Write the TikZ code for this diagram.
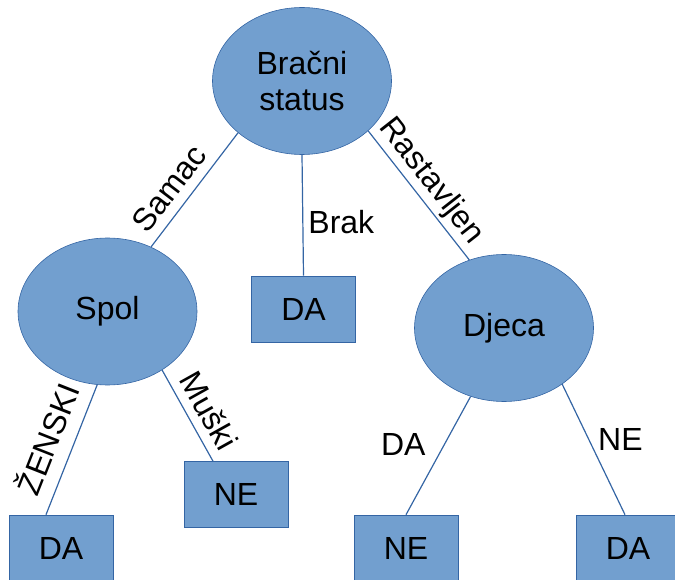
\documentclass[tikz,border=0pt]{standalone}
\usepackage{fontspec}
\setmainfont{Liberation Sans}
\usetikzlibrary{shapes.geometric}
\definecolor{r114g159b207}{HTML}{729FCF}
\definecolor{r52g101b164}{HTML}{3465A4}
\tikzset{
  every node/.style={font=\fontsize{32}{36}\selectfont},
  question/.style={ellipse, draw=r52g101b164, fill=r114g159b207, line width=0.6pt,
    minimum width=179pt, minimum height=147pt, inner sep=0pt, align=center},
  answer/.style={rectangle, draw=r52g101b164, fill=r114g159b207, line width=0.6pt,
    minimum width=104pt, minimum height=66pt, inner sep=0pt},
  branch/.style={draw=r52g101b164, line width=1.2pt},
  edgetext/.style={sloped, above, inner sep=#1},
  edgetext/.default=8pt
}
\begin{document}
\begin{tikzpicture}[x=1pt, y=-1pt]
  \useasboundingbox (0,0) rectangle (675,580);
  \clip (0,0) rectangle (675,580);

  % Drawing nodes
  \node[question] (status) at (302,81) {Bračni\\status};
  \node[question] (spol) at (107.5,311.5) {Spol};
  \node[question] (djeca) at (504,328) {Djeca};
  \node[answer] (brakda) at (303.5,309) {DA};
  \node[answer] (muskine) at (236,494.5) {NE};
  \node[answer] (zenskida) at (61,548) {DA};
  \node[answer] (djecane) at (406,548) {NE};
  \node[answer] (djecada) at (628,548) {DA};

  % Drawing branches
  \draw[branch] (status.219) -- (spol.56.6)
    node[edgetext=9pt, pos=0.6] {Samac};
  \draw[branch] (status.south) -- (brakda.north)
    node[pos=0.56, right=5pt, inner sep=0pt] {Brak};
  \draw[branch] (status.323.6) -- (djeca.117)
    node[edgetext=3pt, pos=0.48] {Rastavljen};
  \draw[branch] (spol.262) -- ([xshift=-15pt]zenskida.north)
    node[edgetext=13pt, pos=0.49] {ŽENSKI};
  \draw[branch] (spol.313.5) -- ([xshift=-23pt]muskine.north)
    node[edgetext=9pt, pos=0.56] {Muški};
  \draw[branch] (djeca.244) -- (djecane.north)
    node[pos=0.41, left=18pt, inner sep=0pt] {DA};
  \draw[branch] (djeca.316.5) -- ([xshift=-3pt]djecada.north)
    node[pos=0.42, right=9pt, inner sep=0pt] {NE};
\end{tikzpicture}
\end{document}
